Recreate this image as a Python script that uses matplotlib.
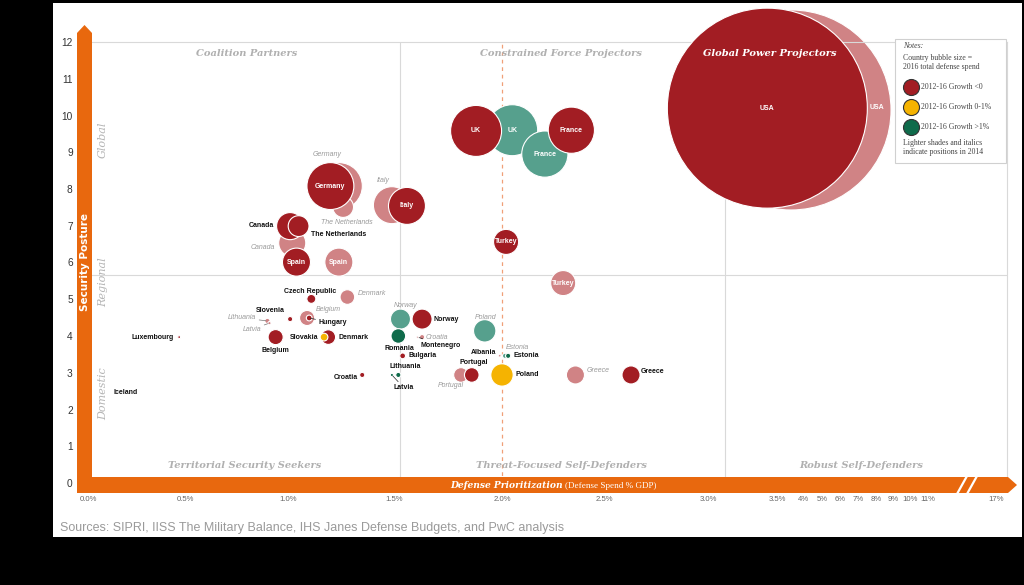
import numpy as np
import matplotlib
matplotlib.use('Agg')
import matplotlib.pyplot as plt
from matplotlib.patches import Polygon, Rectangle

# ---- values ----
countries = ['USA', 'UK', 'France', 'Germany', 'Italy', 'Canada', 'The Netherlands',
             'Spain', 'Turkey', 'Czech Republic', 'Denmark', 'Slovenia', 'Lithuania',
             'Latvia', 'Belgium', 'Hungary', 'Slovakia', 'Luxembourg', 'Iceland',
             'Norway', 'Romania', 'Croatia', 'Montenegro', 'Bulgaria', 'Poland',
             'Albania', 'Estonia', 'Portugal', 'Greece']
# defense spend % GDP and security posture score, 2016
gdp_2016 = [3.43, 1.88, 2.34, 1.20, 1.56, 1.01, 1.05, 1.04, 2.02, 1.11, 1.19, 1.01, 1.52,
            1.49, 0.94, 1.10, 1.17, 0.47, 0.12, 1.63, 1.52, 1.35, 1.61, 1.54, 2.00,
            1.99, 2.03, 1.86, 2.63]
posture_2016 = [10.20, 9.58, 9.60, 8.08, 7.54, 6.99, 6.99, 6.01, 6.56, 5.01, 3.97, 4.46,
                2.94, 2.94, 3.97, 4.49, 3.97, 3.97, 2.45, 4.46, 4.00, 2.94, 3.97, 3.46,
                2.94, 3.46, 3.46, 2.94, 2.94]
# same for 2014 (nan = not shown)
nan = np.nan
gdp_2014 = [3.77, 2.05, 2.21, 1.24, 1.49, 1.02, 1.26, 1.24, 2.30, nan, 1.28, nan, 0.90,
            0.91, 1.09, nan, nan, nan, nan, 1.53, nan, 1.63, nan, nan, 1.92,
            nan, 2.015, 1.81, 2.36]
posture_2014 = [10.15, 9.60, 8.95, 8.08, 7.56, 6.53, 7.51, 6.01, 5.44, nan, 5.06, nan, 4.41,
                4.35, 4.49, nan, nan, nan, nan, 4.46, nan, 3.97, nan, nan, 4.14,
                nan, 3.46, 2.94, 2.94]
# 2016 total defense spend, $bn (bubble area)
spend_2016 = [600, 39, 32, 33, 20.5, 11, 6.5, 11.8, 9.4, 1.2, 3.2, 0.4, 0.4,
              0.15, 3.4, 0.5, 0.9, 0.12, 0, 6, 3.2, 0.4, 0.06, 0.5, 7.5,
              0.08, 0.4, 3.2, 4.9]
# 2012-16 growth class: neg (<0), flat (0-1%), pos (>1%)
growth_2016 = ['neg', 'neg', 'neg', 'neg', 'neg', 'neg', 'neg', 'neg', 'neg', 'neg', 'neg',
               'neg', 'pos', 'pos', 'neg', 'neg', 'flat', 'neg', 'neg', 'neg', 'pos', 'neg',
               'neg', 'neg', 'flat', 'neg', 'pos', 'neg', 'neg']
growth_2014 = ['neg', 'pos', 'pos', 'neg', 'neg', 'neg', 'neg', 'neg', 'neg', None, 'neg',
               None, 'neg', 'neg', 'neg', None, None, None, None, 'pos', None, 'neg',
               None, None, 'pos', None, 'pos', 'neg', 'neg']

x_ticks = [0, 0.5, 1, 1.5, 2, 2.5, 3, 3.5, 4, 5, 6, 7, 8, 9, 10, 11, 17]
x_tick_labels = ['0.0%', '0.5%', '1.0%', '1.5%', '2.0%', '2.5%', '3.0%', '3.5%', '4%',
                 '5%', '6%', '7%', '8%', '9%', '10%', '11%', '17%']
y_ticks = list(range(13))

quadrant_x = [1.53, 3.12]   # vertical dividers (% GDP)
quadrant_y = 5.66           # horizontal divider (posture)
nato_target = 2.0

# broken axis: pixel position of each tick (chart squeezes everything past 3%)
tick_px = [88, 185, 288, 394, 502, 604, 708, 777, 803, 822, 840, 858, 876, 893, 910, 928, 996]
xb = np.array([-100.0] + x_ticks + [100.0])
pb = np.array([tick_px[0] - 100 * 194.0] + tick_px + [tick_px[-1] + 83 * 11.33])


def fwd(v):
    return np.interp(v, xb, pb)


def inv(p):
    return np.interp(p, pb, xb)


DARK = {'neg': '#a21d23', 'flat': '#f5b301', 'pos': '#0f6b4b'}
LIGHT = {'neg': '#d08385', 'pos': '#56a08d'}
ORANGE = '#e8680e'
PT2 = (2 * 100 * 0.72) ** 2 / 600.0   # USA bubble radius = 100 px

W, H = 1024, 585
fig = plt.figure(figsize=(W / 100, H / 100), dpi=100, facecolor='black')
fig.patches.append(Rectangle((53 / W, 1 - 537 / H), (1022 - 53) / W, (537 - 3) / H,
                             transform=fig.transFigure, facecolor='white',
                             edgecolor='none', zorder=-1))

ax = fig.add_axes([88 / W, 1 - 483 / H, (1007 - 88) / W, (483 - 42) / H])
ax.set_xscale('function', functions=(fwd, inv))
ax.set_xlim(0, float(inv(1007)))
ax.set_ylim(0, 12)
ax.patch.set_alpha(0)
for s in ['left', 'bottom']:
    ax.spines[s].set_visible(False)
for s in ['top', 'right']:
    ax.spines[s].set_color('#d9d9d9')
    ax.spines[s].set_linewidth(0.8)
ax.set_xticks(x_ticks)
ax.set_xticklabels(x_tick_labels, fontsize=5.6, color='#666666', family='Liberation Sans')
ax.set_yticks(y_ticks)
ax.set_yticklabels([str(t) for t in y_ticks], fontsize=7.3, color='#333333',
                   family='Liberation Sans')
ax.minorticks_off()
ax.tick_params(axis='x', length=0, pad=9.5)
ax.tick_params(axis='y', length=0, pad=11)

for q in quadrant_x:
    ax.axvline(q, color='#d9d9d9', lw=0.8, zorder=0)
ax.axhline(quadrant_y, color='#d9d9d9', lw=0.8, zorder=0)
ax.axvline(nato_target, color='#f0a078', lw=0.9, ls=(0, (3, 3)), zorder=0)

gx16, gy16 = np.array(gdp_2016), np.array(posture_2016)
gx14, gy14 = np.array(gdp_2014), np.array(posture_2014)
spend = np.array(spend_2016)

# lighter 2014 bubbles first, then 2016; big ones at the back
idx14 = [i for i in np.argsort(-spend) if not np.isnan(gx14[i])]
ax.scatter(gx14[idx14], gy14[idx14], s=spend[idx14] * PT2,
           c=[LIGHT[growth_2014[i]] for i in idx14], edgecolors='white',
           linewidths=0.8, clip_on=False, zorder=2)
idx16 = [i for i in np.argsort(-spend) if spend[i] > 0]
ax.scatter(gx16[idx16], gy16[idx16], s=spend[idx16] * PT2,
           c=[DARK[growth_2016[i]] for i in idx16], edgecolors='white',
           linewidths=0.8, clip_on=False, zorder=3)

# label offsets in pixels (dx, dy up), alignment, leader line
lab16 = {
    'Canada': (-16, 1, 'right'), 'The Netherlands': (12, -8, 'left'),
    'Czech Republic': (-1, 7, 'center'), 'Denmark': (10, 0, 'left'),
    'Slovenia': (-20, 9, 'center'), 'Lithuania': (7, 8, 'center'),
    'Latvia': (2, -13, 'left', True), 'Belgium': (0, -13, 'center'),
    'Hungary': (9, -5, 'left', True), 'Slovakia': (-6, 0, 'right'),
    'Luxembourg': (-5, 0, 'right'), 'Iceland': (2, 0, 'left'),
    'Norway': (11, 0, 'left'), 'Romania': (1, -12, 'center'),
    'Croatia': (-4, -3, 'right'), 'Montenegro': (3, -8, 'left', True),
    'Bulgaria': (6, 0, 'left'), 'Poland': (13, 0, 'left'),
    'Albania': (-4, 3, 'right'), 'Estonia': (5, 0, 'left'),
    'Portugal': (2, 12, 'center'), 'Greece': (10, 3, 'left'),
}
lab14 = {
    'Germany': (-12, 32, 'center'), 'Italy': (-9, 25, 'center'),
    'The Netherlands': (4, -15, 'center'), 'Canada': (-17, -4, 'right'),
    'Denmark': (10, 4, 'left'), 'Lithuania': (-11, 3, 'right', True),
    'Latvia': (-8, -6, 'right', True), 'Belgium': (21, 8, 'center'),
    'Norway': (5, 14, 'center'), 'Croatia': (4, 0, 'left'),
    'Poland': (1, 13, 'center'), 'Estonia': (1, 8, 'left'),
    'Portugal': (-10, -11, 'center'), 'Greece': (11, 4, 'left'),
}
inside16 = ['USA', 'UK', 'France', 'Germany', 'Italy', 'Spain', 'Turkey']
inside14 = ['UK', 'France', 'Spain', 'Turkey']

LBL = dict(family='Liberation Sans', fontsize=5.0)
for i, name in enumerate(countries):
    if name in inside16:
        ax.text(gx16[i], gy16[i], name, color='white', weight='bold', ha='center',
                va='center', zorder=6, **LBL)
    elif name in lab16:
        sp = lab16[name]
        ap = dict(arrowstyle='-', lw=0.5, color='#222222', shrinkA=0, shrinkB=1) if len(sp) > 3 else None
        ax.annotate(name, (gx16[i], gy16[i]), xytext=(sp[0] * 0.72, sp[1] * 0.72),
                    textcoords='offset points', ha=sp[2], va='center', weight='bold',
                    color='#111111', arrowprops=ap, zorder=6, annotation_clip=False, **LBL)
    if np.isnan(gx14[i]):
        continue
    if name in inside14:
        ax.text(gx14[i], gy14[i], name, color='white', weight='bold', ha='center',
                va='center', zorder=6, **LBL)
    elif name == 'USA':
        ax.annotate(name, (gx14[i], gy14[i]), xytext=(86 * 0.72, 2 * 0.72),
                    textcoords='offset points', ha='center', va='center', weight='bold',
                    color='white', zorder=6, annotation_clip=False, **LBL)
    elif name in lab14:
        sp = lab14[name]
        ap = dict(arrowstyle='-', lw=0.5, color='#777777', shrinkA=0, shrinkB=1) if len(sp) > 3 else None
        ax.annotate(name, (gx14[i], gy14[i]), xytext=(sp[0] * 0.72, sp[1] * 0.72),
                    textcoords='offset points', ha=sp[2], va='center', style='italic',
                    color='#9a9a9a', arrowprops=ap, zorder=6, annotation_clip=False, **LBL)

# ---- decorations in pixel space ----
deco = fig.add_axes([0, 0, 1, 1], zorder=5)
deco.set_xlim(0, W)
deco.set_ylim(H, 0)
deco.axis('off')
deco.patch.set_alpha(0)

deco.add_patch(Polygon([(77, 493), (77, 33), (84.5, 25), (92, 33), (92, 493)],
                       closed=True, facecolor=ORANGE, edgecolor='none'))
deco.add_patch(Polygon([(77, 477), (1008, 477), (1017, 485), (1008, 493), (77, 493)],
                       closed=True, facecolor=ORANGE, edgecolor='none'))
deco.plot([957, 967], [494, 476], color='white', lw=1.6, solid_capstyle='butt')
deco.plot([967, 977], [494, 476], color='white', lw=1.6, solid_capstyle='butt')

deco.text(85, 262, 'Security Posture', rotation=90, color='white', weight='bold',
          fontsize=7.5, family='DejaVu Sans', ha='center', va='center')
deco.text(563, 486, 'Defense Prioritization', color='white', weight='bold', style='italic',
          fontsize=6.6, family='DejaVu Serif', ha='right', va='center')
deco.text(565, 486, '(Defense Spend % GDP)', color='white', fontsize=6.6,
          family='Liberation Serif', ha='left', va='center')

QT = dict(family='DejaVu Serif', weight='bold', style='italic', fontsize=7.1,
          ha='center', va='center')
deco.text(247, 54, 'Coalition Partners', color='#b0b0b0', **QT)
deco.text(561, 54, 'Constrained Force Projectors', color='#b0b0b0', **QT)
deco.text(770, 53, 'Global Power Projectors', color='white', **QT)
deco.text(245, 466, 'Territorial Security Seekers', color='#b0b0b0', **QT)
deco.text(561, 466, 'Threat-Focused Self-Defenders', color='#b0b0b0', **QT)
deco.text(861, 466, 'Robust Self-Defenders', color='#b0b0b0', **QT)

SIDE = dict(family='DejaVu Serif', style='italic', fontsize=8, color='#b5b5b5',
            rotation=90, ha='center', va='center')
deco.text(103, 140, 'Global', **SIDE)
deco.text(103, 282, 'Regional', **SIDE)
deco.text(103, 394, 'Domestic', **SIDE)

# notes box
deco.add_patch(Rectangle((895, 39), 111, 124, facecolor='white', edgecolor='#d0d0d0', lw=0.8))
NT = dict(family='Liberation Serif', fontsize=5.6, color='#444444', va='center', ha='left')
deco.text(903, 46, 'Notes:', style='italic', **NT)
deco.text(903, 58, 'Country bubble size =', **NT)
deco.text(903, 67, '2016 total defense spend', **NT)
leg_items = [('neg', '2012-16 Growth <0'), ('flat', '2012-16 Growth 0-1%'),
             ('pos', '2012-16 Growth >1%')]
for k, (g, txt) in enumerate(leg_items):
    yy = 87 + k * 20
    deco.scatter([911], [yy], s=(16 * 0.72) ** 2, c=DARK[g], edgecolors='#333333', linewidths=0.8)
    deco.text(921, yy, txt, **NT)
deco.text(903, 143, 'Lighter shades and italics', **NT)
deco.text(903, 152, 'indicate positions in 2014', **NT)

deco.text(60, 528, 'Sources: SIPRI, IISS The Military Balance, IHS Janes Defense Budgets, '
          'and PwC analysis', family='Liberation Sans', fontsize=9, color='#9a9a9a',
          ha='left', va='center')

fig.savefig('out.png', dpi=100, facecolor='black')
